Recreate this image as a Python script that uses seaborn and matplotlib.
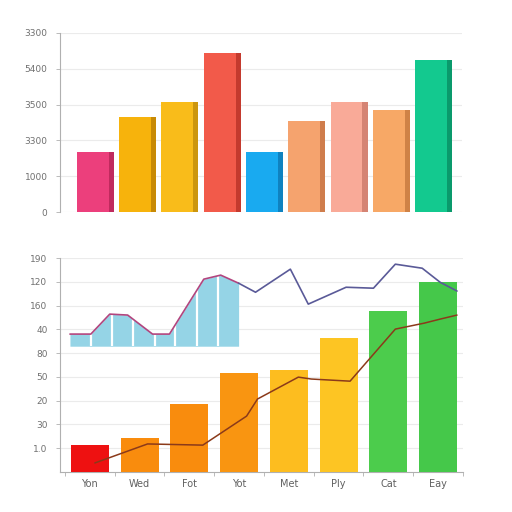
import numpy as np
import pandas as pd
import seaborn as sns
import matplotlib.pyplot as plt

# top panel data
top_vals = [1.68, 2.65, 3.07, 4.44, 1.68, 2.54, 3.07, 2.85, 4.25]
top_cols = ['#ec3f7c', '#f7b30c', '#f9bc1a', '#f25a4a', '#19aaf0',
            '#f5a36e', '#f9aa98', '#f7a866', '#13c98f']
top_side = ['#c02a5e', '#c88a05', '#cc960e', '#c43a2e', '#0f82c0',
            '#cf7d4c', '#d58474', '#cf8246', '#0a9a6c']
top_ticklabels = ['0', '1000', '3300', '3500', '5400', '3300']

# bottom panel data
days = ['Yon', 'Wed', 'Fot', 'Yot', 'Met', 'Ply', 'Cat', 'Eay']
day_vals = [1.13, 1.42, 2.85, 4.18, 4.27, 5.65, 6.78, 8.0]
day_cols = ['#ee1111', '#f98c0d', '#f98c0d', '#f99511',
            '#fdbd1f', '#fdc523', '#4ccc4c', '#45c84a']
bot_ticklabels = ['1.0', '30', '20', '50', '80', '40', '160', '120', '190']

# brown trend line
trend_x = [0.10, 1.16, 2.27, 3.15, 3.37, 4.19, 4.45, 5.23, 6.14, 6.72, 7.04, 7.38]
trend_y = [0.38, 1.18, 1.13, 2.35, 3.07, 3.99, 3.91, 3.82, 6.01, 6.26, 6.43, 6.60]

# upper line (first part sits over the blue area)
upper_x = [-0.40, 0.02, 0.40, 0.76, 1.26, 1.60, 2.29, 2.63, 2.99,
           3.33, 4.03, 4.39, 5.15, 5.70, 6.14, 6.68, 7.04, 7.38]
upper_y = [5.80, 5.80, 6.64, 6.60, 5.80, 5.80, 8.11, 8.28, 7.94,
           7.56, 8.53, 7.06, 7.77, 7.73, 8.74, 8.57, 7.98, 7.61]
area_base = 5.29
area_seps = [0.025, 0.45, 0.875, 1.30, 1.72, 2.15, 2.57]

sns.set_theme(style="whitegrid")
plt.rcParams['font.family'] = ['DejaVu Sans']

fig = plt.figure(figsize=(5.12, 5.12), dpi=100)
fig.patch.set_facecolor('white')

# ---- top bars ----
ax1 = fig.add_axes([60/512, 1-212/512, 402/512, 179/512])
df_top = pd.DataFrame({'k': [str(i) for i in range(9)], 'v': top_vals})
sns.barplot(data=df_top, x='k', y='v', hue='k', palette=top_cols,
            width=0.76, legend=False, saturation=1, linewidth=0,
            ax=ax1, zorder=3)
ax1.bar(np.arange(9) + 0.435, top_vals, width=0.12, color=top_side,
        linewidth=0, zorder=3)
ax1.set_xlim(-0.78, 8.73)
ax1.set_ylim(0, 5)
ax1.set_yticks(range(6))
ax1.set_yticklabels(top_ticklabels)
ax1.set_xticks([])
ax1.set_xlabel('')
ax1.set_ylabel('')

# ---- bottom bars ----
ax2 = fig.add_axes([60/512, 1-472/512, 403/512, 214/512])
df_bot = pd.DataFrame({'day': days, 'v': day_vals})
sns.barplot(data=df_bot, x='day', y='v', hue='day', palette=day_cols,
            width=0.76, legend=False, saturation=1, linewidth=0,
            ax=ax2, zorder=3)
ax2.fill_between(upper_x[:9], area_base, upper_y[:9], color='#95d4e6',
                 lw=0, zorder=4)
ax2.vlines(area_seps, area_base, np.interp(area_seps, upper_x, upper_y),
           color='white', lw=1.6, zorder=4)
sns.lineplot(x=upper_x[:9], y=upper_y[:9], sort=False, color='#b2457e',
             lw=1.2, ax=ax2, zorder=5)
sns.lineplot(x=upper_x[8:], y=upper_y[8:], sort=False, color='#5a5a98',
             lw=1.2, ax=ax2, zorder=5)
sns.lineplot(x=trend_x, y=trend_y, sort=False, color='#8b3a1a',
             lw=1.1, ax=ax2, zorder=5)
ax2.set_xlim(-0.6, 7.44)
ax2.set_ylim(0, 9)
ax2.set_yticks(range(1, 10))
ax2.set_yticklabels(bot_ticklabels)
ax2.set_xticks(range(len(days)))
ax2.set_xticklabels(days)
ax2.set_xticks(np.arange(-0.5, 8, 1), minor=True)
ax2.set_xlabel('')
ax2.set_ylabel('')

for ax in (ax1, ax2):
    ax.set_facecolor('white')
    for s in ('top', 'right'):
        ax.spines[s].set_visible(False)
    ax.spines['left'].set_color('#b0b0b0')
    ax.spines['left'].set_linewidth(0.8)
    ax.spines['bottom'].set_visible(False)
    ax.grid(axis='y', color='#ebebeb', lw=0.8)
    ax.grid(axis='x', visible=False)
    ax.tick_params(axis='y', labelsize=6.5, colors='#707070', length=3,
                   width=0.6, left=True, pad=6)
    ax.tick_params(axis='y', color='#b0b0b0')

ax2.spines['bottom'].set_visible(True)
ax2.spines['bottom'].set_color('#b0b0b0')
ax2.spines['bottom'].set_linewidth(0.8)
ax2.tick_params(axis='x', which='major', length=0, labelsize=7,
                colors='#606060', pad=5)
ax2.tick_params(axis='x', which='minor', length=3, width=0.6,
                color='#b0b0b0', bottom=True)

fig.savefig('out.png', dpi=100, facecolor='white')
